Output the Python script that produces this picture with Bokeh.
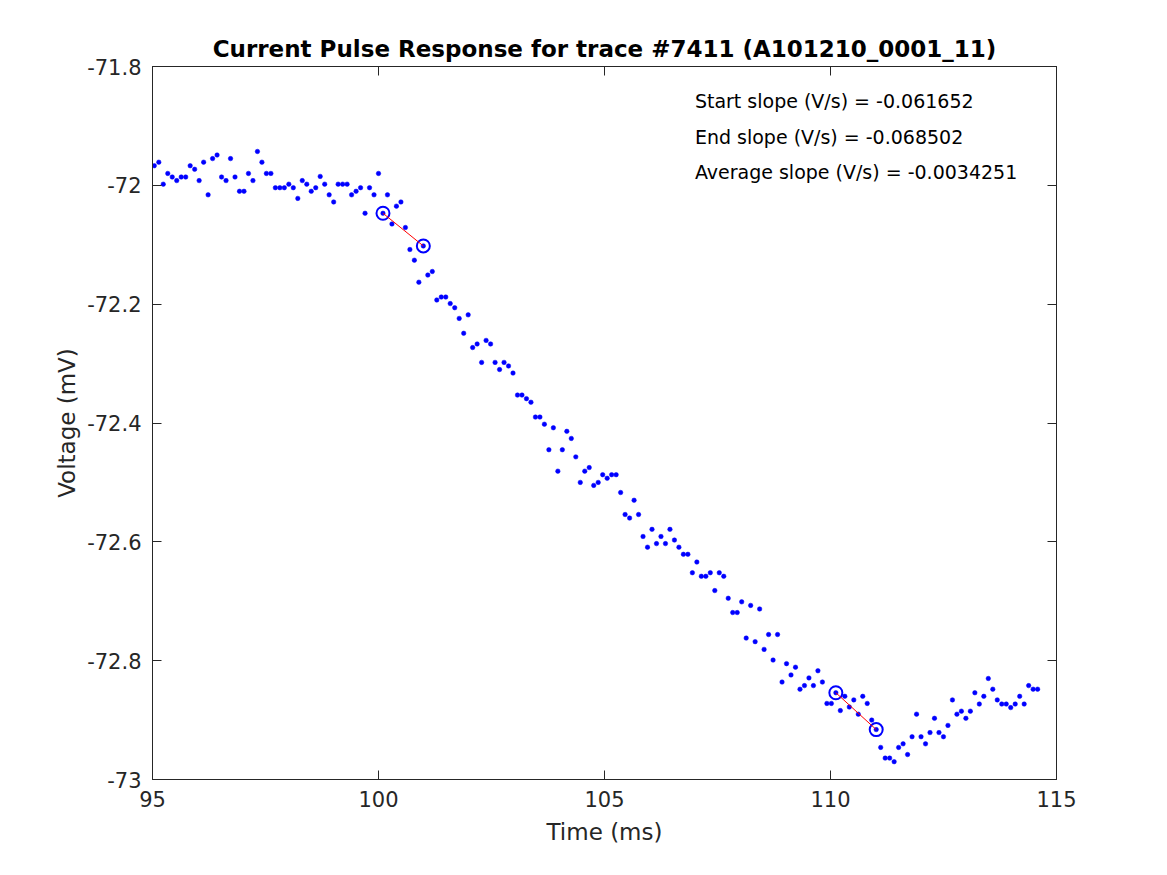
from bokeh.plotting import figure
from bokeh.models import LinearAxis, Range1d, FixedTicker, CustomJSTickFormatter, Label
from bokeh.embed import file_html
from bokeh.resources import INLINE

# ---------------- data ----------------
voltage_mv = [
    -71.967, -71.961, -71.998, -71.980, -71.986, -71.992, -71.986, -71.986, -71.967, -71.973,
    -71.992, -71.961, -72.016, -71.955, -71.949, -71.986, -71.992, -71.955, -71.986, -72.010,
    -72.010, -71.980, -71.992, -71.943, -71.961, -71.980, -71.980, -72.004, -72.004, -72.004,
    -71.998, -72.004, -72.022, -71.992, -71.998, -72.010, -72.004, -71.985, -71.998, -72.016,
    -72.028, -71.998, -71.998, -71.998, -72.016, -72.010, -72.004, -72.047, -72.004, -72.016,
    -71.980, -72.047, -72.016, -72.065, -72.035, -72.028, -72.071, -72.108, -72.126, -72.163,
    -72.102, -72.151, -72.145, -72.193, -72.188, -72.188, -72.199, -72.206, -72.224, -72.249,
    -72.218, -72.273, -72.267, -72.298, -72.261, -72.267, -72.298, -72.310, -72.298, -72.304,
    -72.316, -72.353, -72.353, -72.359, -72.365, -72.390, -72.390, -72.402, -72.445, -72.408,
    -72.481, -72.445, -72.414, -72.426, -72.457, -72.500, -72.481, -72.475, -72.505, -72.500,
    -72.487, -72.493, -72.487, -72.487, -72.517, -72.554, -72.560, -72.530, -72.554, -72.591,
    -72.609, -72.579, -72.603, -72.591, -72.603, -72.579, -72.597, -72.609, -72.621, -72.621,
    -72.652, -72.634, -72.658, -72.658, -72.652, -72.682, -72.652, -72.658, -72.695, -72.719,
    -72.719, -72.701, -72.762, -72.707, -72.768, -72.713, -72.781, -72.756, -72.799, -72.756,
    -72.836, -72.805, -72.824, -72.811, -72.848, -72.842, -72.829, -72.842, -72.817, -72.836,
    -72.872, -72.872, -72.854, -72.884, -72.860, -72.878, -72.866, -72.890, -72.860, -72.872,
    -72.900, -72.916, -72.946, -72.964, -72.964, -72.970, -72.946, -72.940, -72.958, -72.928,
    -72.890, -72.928, -72.940, -72.921, -72.897, -72.921, -72.928, -72.909, -72.866, -72.890,
    -72.885, -72.897, -72.885, -72.854, -72.873, -72.860, -72.830, -72.848, -72.866, -72.873,
    -72.873, -72.879, -72.873, -72.860, -72.873, -72.842, -72.848, -72.848,
]
start_ms = 95.04          # time of first sample
sample_ms = 0.0992        # sampling interval
time_ms = [round(start_ms + sample_ms * k, 4) for k in range(len(voltage_mv))]

start_fit_idx = [51, 60]     # circled samples for start slope
end_fit_idx = [152, 161]     # circled samples for end slope

x_ticks = [95, 100, 105, 110, 115]
y_ticks = [-73, -72.8, -72.6, -72.4, -72.2, -72, -71.8]

title_text = "Current Pulse Response for trace #7411 (A101210_0001_11)"
annotation_texts = [
    "Start slope (V/s) = -0.061652",
    "End slope (V/s) = -0.068502",
    "Average slope (V/s) = -0.0034251",
]
annotation_x = 107.0
annotation_y = [-71.858, -71.918, -71.977]

FONT = "DejaVu Sans"
AXC = "#262626"

# ---------------- figure ----------------
p = figure(
    width=1151, height=859,
    x_range=Range1d(95, 115), y_range=Range1d(-73, -71.8),
    output_backend="svg", toolbar_location=None,
    min_border_left=152, min_border_right=95, min_border_top=66, min_border_bottom=80,
    title=title_text,
)
p.background_fill_color = "white"
p.border_fill_color = "white"
p.outline_line_color = AXC
p.outline_line_width = 1
p.grid.visible = False

p.title.text_font = FONT
p.title.text_font_size = "23px"
p.title.text_font_style = "bold"
p.title.text_color = "black"
p.title.align = "center"
p.title.standoff = 10

fmt = CustomJSTickFormatter(code="return Number(tick.toFixed(1)).toString();")
blank = CustomJSTickFormatter(code="return '';")

def style_axis(ax, show_labels=True):
    ax.axis_line_color = AXC
    ax.axis_line_width = 1
    ax.major_tick_in = 9
    ax.major_tick_out = 0
    ax.minor_tick_line_color = None
    ax.major_tick_line_color = AXC
    ax.major_label_text_font = FONT
    ax.major_label_text_font_size = "21px"
    ax.major_label_text_color = AXC
    ax.axis_label_text_font = FONT
    ax.axis_label_text_font_size = "23px"
    ax.axis_label_text_font_style = "normal"
    ax.axis_label_text_color = AXC
    ax.formatter = fmt if show_labels else blank
    if not show_labels:
        ax.major_label_standoff = 0

xa = p.xaxis[0]
xa.ticker = FixedTicker(ticks=x_ticks)
style_axis(xa)
xa.axis_label = "Time (ms)"
xa.major_label_standoff = 11
xa.axis_label_standoff = 9

ya = p.yaxis[0]
ya.ticker = FixedTicker(ticks=y_ticks)
style_axis(ya)
ya.axis_label = "Voltage (mV)"
ya.major_label_standoff = 11
ya.axis_label_standoff = 4

top = LinearAxis(ticker=FixedTicker(ticks=x_ticks))
style_axis(top, show_labels=False)
p.add_layout(top, "above")
right = LinearAxis(ticker=FixedTicker(ticks=y_ticks))
style_axis(right, show_labels=False)
p.add_layout(right, "right")

# data points
p.scatter(time_ms, voltage_mv, marker="circle", size=4.5,
          fill_color="blue", line_color="blue", line_width=0.5)

# fit segments and circled endpoints
for idx in (start_fit_idx, end_fit_idx):
    xs = [time_ms[i] for i in idx]
    ys = [voltage_mv[i] for i in idx]
    p.scatter(xs, ys, marker="circle", size=13, fill_color=None,
              line_color="blue", line_width=2)
    p.line(xs, ys, line_color="red", line_width=1)

for txt, yv in zip(annotation_texts, annotation_y):
    p.add_layout(Label(x=annotation_x, y=yv, text=txt, text_font=FONT,
                       text_font_size="19px", text_color="black",
                       text_baseline="middle", text_align="left"))

open("out.html", "w").write(file_html(p, INLINE))
